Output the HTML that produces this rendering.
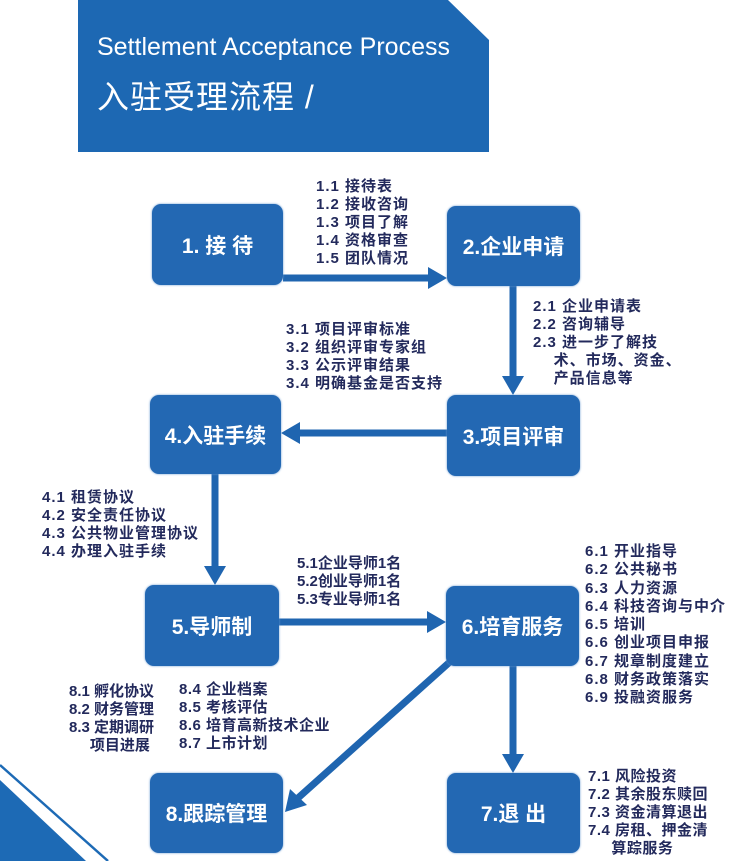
<!DOCTYPE html>
<html><head><meta charset="utf-8"><style>
body{margin:0;width:751px;height:861px;overflow:hidden;background:#fff;position:relative;font-family:"Liberation Sans","Noto Sans CJK SC",sans-serif}
.b{position:absolute;background:#2368b3;border-radius:9px;color:#fff;font-weight:bold;font-size:21px;display:flex;align-items:center;justify-content:center;box-shadow:0 0 2px #6a9ad0}
.t{position:absolute;color:#232a5c;font-weight:bold;font-size:15px;letter-spacing:1px;line-height:18px;white-space:nowrap}
</style></head><body>
<svg width="751" height="861" style="position:absolute;left:0;top:0">
<polygon points="78,0 448,0 489,40 489,152 78,152" fill="#1d68b3"/>
<polygon points="0,780 0,861 86,861" fill="#1d6ab5"/>
<line x1="0" y1="765" x2="108" y2="861" stroke="#1d6ab5" stroke-width="2.5"/>
<g stroke="#1f65b0" stroke-width="7" fill="#1f65b0">
<line x1="283" y1="278" x2="430" y2="278"/><polygon points="428,267 447,278 428,289" stroke="none"/>
<line x1="513" y1="286" x2="513" y2="378"/><polygon points="502,376 513,395 524,376" stroke="none"/>
<line x1="447" y1="433" x2="298" y2="433"/><polygon points="300,422 281,433 300,444" stroke="none"/>
<line x1="215" y1="474" x2="215" y2="568"/><polygon points="204,566 215,585 226,566" stroke="none"/>
<line x1="279" y1="622" x2="429" y2="622"/><polygon points="427,611 446,622 427,633" stroke="none"/>
<line x1="513" y1="666" x2="513" y2="756"/><polygon points="502,754 513,773 524,754" stroke="none"/>
<line x1="452" y1="660" x2="298" y2="798"/><polygon points="290,789 285,812 307,805" stroke="none"/>
</g>
</svg>
<div style="position:absolute;left:97px;top:33px;color:#fff;font-size:25px">Settlement Acceptance Process</div>
<div style="position:absolute;left:97px;top:72px;color:#fff;font-size:32px;letter-spacing:1px">入驻受理流程 /</div>
<div class="b" style="left:152px;top:204px;width:131px;height:81px">1. 接 待</div>
<div class="b" style="left:447px;top:206px;width:133px;height:80px">2.企业申请</div>
<div class="b" style="left:447px;top:395px;width:133px;height:81px">3.项目评审</div>
<div class="b" style="left:150px;top:395px;width:131px;height:79px">4.入驻手续</div>
<div class="b" style="left:145px;top:585px;width:134px;height:81px">5.导师制</div>
<div class="b" style="left:446px;top:586px;width:133px;height:80px">6.培育服务</div>
<div class="b" style="left:447px;top:773px;width:133px;height:80px">7.退 出</div>
<div class="b" style="left:150px;top:773px;width:133px;height:80px">8.跟踪管理</div>
<div class="t" style="left:316px;top:178px">1.1 接待表<br>1.2 接收咨询<br>1.3 项目了解<br>1.4 资格审查<br>1.5 团队情况</div>
<div class="t" style="left:533px;top:298px">2.1 企业申请表<br>2.2 咨询辅导<br>2.3 进一步了解技<br>&nbsp;&nbsp;&nbsp;&nbsp;术、市场、资金、<br>&nbsp;&nbsp;&nbsp;&nbsp;产品信息等</div>
<div class="t" style="left:286px;top:321px">3.1 项目评审标准<br>3.2 组织评审专家组<br>3.3 公示评审结果<br>3.4 明确基金是否支持</div>
<div class="t" style="left:42px;top:489px">4.1 租赁协议<br>4.2 安全责任协议<br>4.3 公共物业管理协议<br>4.4 办理入驻手续</div>
<div class="t" style="left:297px;top:555px;letter-spacing:0">5.1企业导师1名<br>5.2创业导师1名<br>5.3专业导师1名</div>
<div class="t" style="left:585px;top:543px;line-height:18.3px">6.1 开业指导<br>6.2 公共秘书<br>6.3 人力资源<br>6.4 科技咨询与中介<br>6.5 培训<br>6.6 创业项目申报<br>6.7 规章制度建立<br>6.8 财务政策落实<br>6.9 投融资服务</div>
<div class="t" style="left:69px;top:683px;letter-spacing:0">8.1 孵化协议<br>8.2 财务管理<br>8.3 定期调研<br>&nbsp;&nbsp;&nbsp;&nbsp;&nbsp;项目进展</div>
<div class="t" style="left:179px;top:681px;letter-spacing:0.5px">8.4 企业档案<br>8.5 考核评估<br>8.6 培育高新技术企业<br>8.7 上市计划</div>
<div class="t" style="left:588px;top:768px;letter-spacing:0.5px">7.1 风险投资<br>7.2 其余股东赎回<br>7.3 资金清算退出<br>7.4 房租、押金清<br>&nbsp;&nbsp;&nbsp;&nbsp;&nbsp;算踪服务</div>
</body></html>
